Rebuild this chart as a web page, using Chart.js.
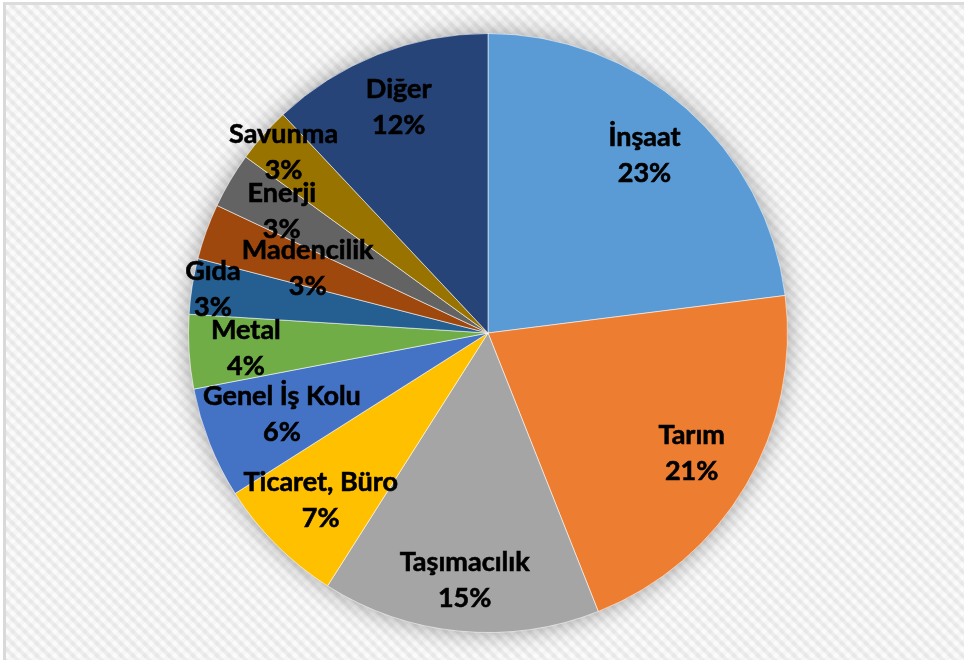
<!DOCTYPE html>
<html lang="tr">
<head>
<meta charset="utf-8">
<title>İş Kollarına Göre Dağılım</title>
<script src="https://cdn.jsdelivr.net/npm/chart.js@4"></script>
<style>
  html, body { margin: 0; padding: 0; background: #fff; overflow: hidden; }
  #frame {
    position: absolute; left: 3px; top: 2px; width: 1000px; height: 700px;
    border-left: 3px solid #d9d9d9; border-top: 3px solid #dcdcdc;
    background-color: #fbfbfb;
    background-image:
      repeating-linear-gradient(45deg, #ffffff 0px, #ffffff 3px, #f0f0f0 4.5px, #f0f0f0 7px, #ffffff 8.5px),
      repeating-linear-gradient(-45deg, rgba(255,255,255,0.5) 0px, rgba(255,255,255,0.5) 4px, rgba(242,242,242,0.4) 4.5px, rgba(242,242,242,0.4) 8.5px);
    background-blend-mode: multiply;
  }
  #wrap { position: absolute; left: 0; top: 0; width: 964px; height: 660px; }
</style>
</head>
<body>
<div id="frame"></div>
<div id="wrap"><canvas id="chart"></canvas></div>
<script>
// İş kollarına göre dağılım (%)
const sectors = ['İnşaat', 'Tarım', 'Taşımacılık', 'Ticaret, Büro', 'Genel İş Kolu', 'Metal', 'Gıda', 'Madencilik', 'Enerji', 'Savunma', 'Diğer'];
const shares = [23, 21, 15, 7, 6, 4, 3, 3, 3, 3, 12];
const sliceColors = ['#5B9BD5', '#ED7D31', '#A5A5A5', '#FFC000', '#4472C4', '#70AD47', '#255E91', '#9E480E', '#636363', '#997300', '#264478'];

// label distance from centre, as a fraction of the radius
const labelRadius = [0.79, 0.79, 0.83, 0.79, 0.74, 0.81, 0.93, 0.64, 0.80, 0.91, 0.81];

// soft shadow behind the whole pie
const pieShadow = {
  id: 'pieShadow',
  beforeDatasetsDraw(chart) {
    const arc = chart.getDatasetMeta(0).data[0];
    if (!arc) return;
    const { ctx } = chart;
    ctx.save();
    ctx.shadowColor = 'rgba(0,0,0,0.4)';
    ctx.shadowBlur = 24;
    ctx.fillStyle = '#ffffff';
    ctx.beginPath();
    ctx.arc(arc.x, arc.y, arc.outerRadius - 1, 0, Math.PI * 2);
    ctx.fill();
    ctx.restore();
  }
};

const sliceLabels = {
  id: 'sliceLabels',
  afterDatasetsDraw(chart) {
    const { ctx } = chart;
    const meta = chart.getDatasetMeta(0);
    ctx.save();
    ctx.font = 'bold 27px Lato';
    ctx.fillStyle = '#000';
    ctx.strokeStyle = '#000';
    ctx.lineWidth = 0.6;
    ctx.textAlign = 'center';
    ctx.textBaseline = 'middle';
    meta.data.forEach((arc, i) => {
      const { x, y, startAngle, endAngle, outerRadius } = arc.getProps(['x', 'y', 'startAngle', 'endAngle', 'outerRadius'], true);
      const mid = (startAngle + endAngle) / 2;
      const r = outerRadius * labelRadius[i];
      const cx = x + Math.cos(mid) * r;
      const cy = y + Math.sin(mid) * r;
      [[sectors[i], cy - 18], [shares[i] + '%', cy + 18]].forEach(([t, ty]) => {
        ctx.fillText(t, cx, ty);
        ctx.strokeText(t, cx, ty);
      });
    });
    ctx.restore();
  }
};

new Chart(document.getElementById('chart'), {
  type: 'pie',
  data: {
    labels: sectors,
    datasets: [{
      data: shares,
      backgroundColor: sliceColors,
      borderColor: 'rgba(255,255,255,0.55)',
      borderWidth: 1
    }]
  },
  options: {
    responsive: true,
    maintainAspectRatio: false,
    animation: false,
    layout: { padding: { top: 33, bottom: 27, left: 12, right: 0 } },
    plugins: {
      legend: { display: false },
      tooltip: { enabled: false }
    }
  },
  plugins: [pieShadow, sliceLabels]
});
</script>
</body>
</html>
